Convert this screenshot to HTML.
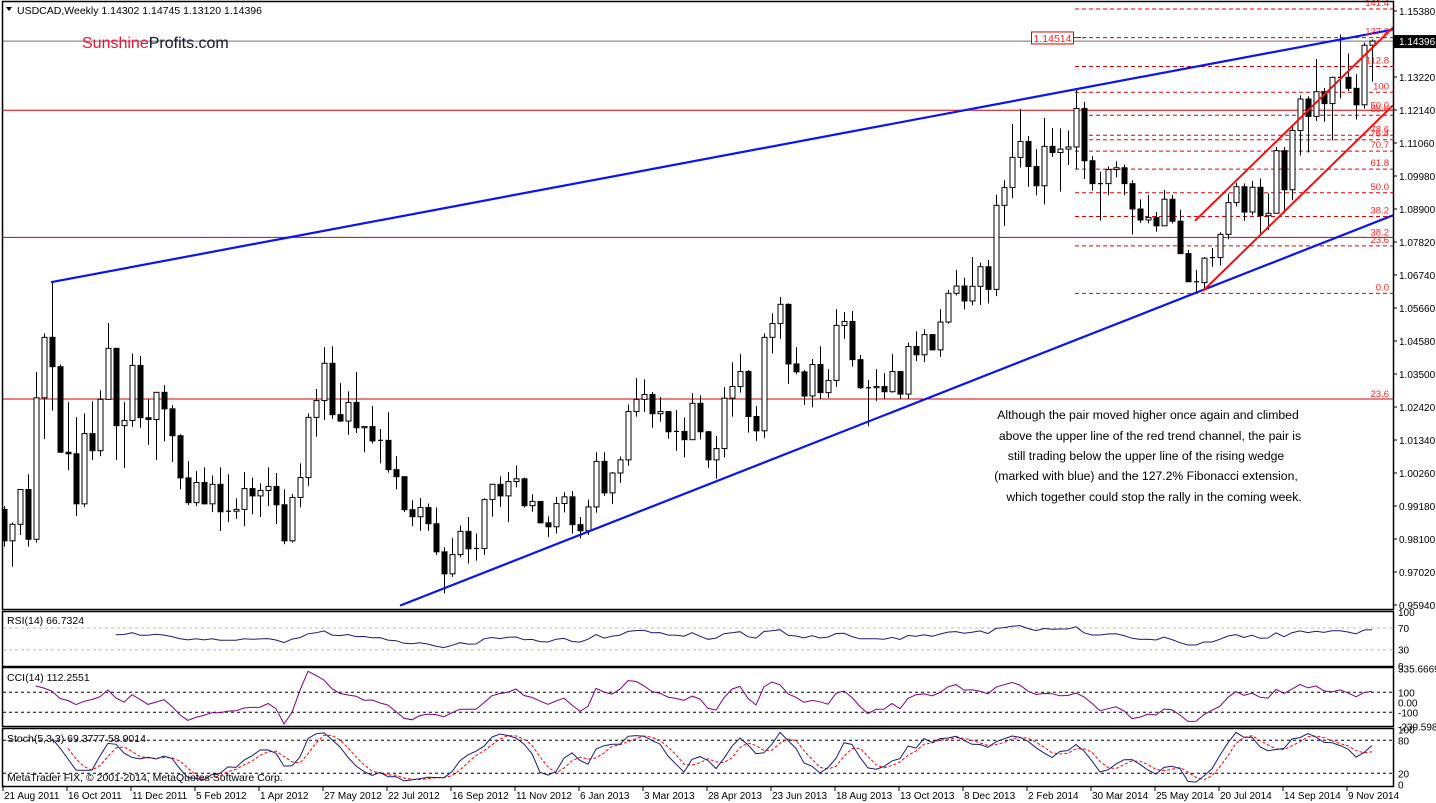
<!DOCTYPE html>
<html><head><meta charset="utf-8"><title>USDCAD Weekly</title>
<style>
html,body{margin:0;padding:0;background:#fff;}
svg{display:block;font-family:"Liberation Sans",sans-serif;}
</style></head>
<body>
<svg id="chart" xmlns="http://www.w3.org/2000/svg" width="1436" height="803" viewBox="0 0 1436 803">
<defs>
<clipPath id="mainClip"><rect x="3" y="2" width="1390" height="607"/></clipPath>
<clipPath id="rsiClip"><rect x="3" y="612" width="1390" height="54"/></clipPath>
<clipPath id="cciClip"><rect x="3" y="668" width="1390" height="58"/></clipPath>
<clipPath id="stClip"><rect x="3" y="729" width="1390" height="57"/></clipPath>
</defs>
<rect x="0" y="0" width="1436" height="803" fill="#fff"/>
<g id="main" clip-path="url(#mainClip)"></g>
<g id="overlay"></g>
<rect x="2.5" y="1.5" width="1391" height="608" fill="none" stroke="#000" stroke-width="1.5"/>
<rect x="2.5" y="611.5" width="1391" height="55" fill="none" stroke="#000" stroke-width="1.5"/>
<rect x="2.5" y="667.5" width="1391" height="59" fill="none" stroke="#000" stroke-width="1.5"/>
<rect x="2.5" y="728.5" width="1391" height="58" fill="none" stroke="#000" stroke-width="1.5"/>
<g id="rsiG" clip-path="url(#rsiClip)"></g>
<g id="cciG" clip-path="url(#cciClip)"></g>
<g id="stG" clip-path="url(#stClip)"></g>
<g id="axes"></g>

<text x="17" y="14" font-size="10.5" fill="#000">USDCAD,Weekly  1.14302 1.14745 1.13120 1.14396</text>
<path d="M6,7 L12,7 L9,11 Z" fill="#000"/>
<text x="82" y="48" font-size="16"><tspan fill="#e8143c">Sunshine</tspan><tspan fill="#151530">Profits.com</tspan></text>

<g font-size="12.2" fill="#000" text-anchor="middle">
<text x="1148" y="419">Although the pair moved higher once again and climbed</text>
<text x="1150" y="440">above the upper line of the red trend channel, the pair is</text>
<text x="1146" y="460">still trading below the upper line of the rising wedge</text>
<text x="1146" y="480">(marked with blue) and the 127.2% Fibonacci extension,</text>
<text x="1154" y="501">which together could stop the rally in the coming week.</text>
</g>

<text x="7" y="624" font-size="10.5">RSI(14) 66.7324</text>
<text x="7" y="681" font-size="10.5">CCI(14) 112.2551</text>
<text x="7" y="742" font-size="10.5">Stoch(5,3,3) 69.3777 58.9014</text>
<text x="7" y="781" font-size="10.5">MetaTrader FIX, © 2001-2014, MetaQuotes Software Corp.</text>

<script>
// ---------- data (weekly USDCAD, from 21 Aug 2011) ----------
const closes = [
0.9804,0.9858,0.9972,0.9809,1.0272,1.0470,1.0374,1.0094,1.0089,0.9925,
1.0155,1.0099,1.0267,1.0434,1.0181,1.0198,1.0378,1.0207,1.0201,1.0290,
1.0236,1.0148,1.0010,0.9929,0.9995,0.9925,0.9989,0.9899,0.9901,0.9907,
0.9975,0.9951,0.9969,0.9982,0.9922,0.9804,0.9946,1.0011,1.0208,1.0263,
1.0385,1.0217,1.0196,1.0257,1.0174,1.0178,1.0131,1.0133,1.0037,1.0014,
0.9906,0.9883,0.9913,0.9860,0.9768,0.9696,0.9759,0.9835,0.9778,0.9779,
0.9939,0.9989,0.9951,0.9998,1.0007,0.9919,0.9933,0.9863,0.9850,0.9926,
0.9948,0.9857,0.9837,0.9915,1.0064,0.9961,1.0026,1.0069,1.0227,1.0267,
1.0283,1.0220,1.0227,1.0161,1.0162,1.0135,1.0254,1.0161,1.0069,1.0106,
1.0271,1.0309,1.0358,1.0211,1.0164,1.0470,1.0515,1.0578,1.0383,1.0357,
1.0278,1.0381,1.0289,1.0329,1.0509,1.0522,1.0397,1.0305,1.0305,1.0309,
1.0292,1.0358,1.0284,1.0440,1.0413,1.0479,1.0429,1.0520,1.0614,1.0638,
1.0589,1.0637,1.0701,1.0627,1.0902,1.0960,1.1059,1.1111,1.1029,1.0966,
1.1095,1.1075,1.1086,1.1093,1.1219,1.1048,1.0973,1.0973,1.1019,1.1025,
1.0973,1.0890,1.0854,1.0862,1.0835,1.0922,1.0850,1.0744,1.0652,1.0649,
1.0729,1.0731,1.0807,1.0911,1.0963,1.0880,1.0961,1.0868,1.0876,1.1081,
1.0953,1.1147,1.1250,1.1193,1.1274,1.1235,1.1321,1.1321,1.1285,1.1231,
1.1426,1.14396];
const highs = [
0.9918,0.9864,0.9972,1.0022,1.0356,1.0483,1.0651,1.0381,1.0258,1.0209,
1.0221,1.0261,1.0297,1.0517,1.0434,1.0258,1.0417,1.0409,1.0267,1.0290,
1.0314,1.0248,1.0153,1.0065,1.0032,1.0045,1.0018,1.0045,1.0022,0.9943,
1.0029,1.0011,0.9992,1.0045,1.0026,0.9973,0.9957,1.0058,1.0221,1.0301,
1.0438,1.0441,1.0320,1.0293,1.0356,1.0178,1.0245,1.0170,1.0225,1.0081,
1.0009,0.9937,0.9944,0.9926,0.9913,0.9783,0.9813,0.9854,0.9882,0.9828,
0.9943,0.9989,1.0015,1.0029,1.0051,1.0011,0.9956,0.9933,0.9884,0.9948,
0.9963,0.9967,0.9882,0.9939,1.0094,1.0094,1.0029,1.0080,1.0250,1.0337,
1.0333,1.0291,1.0275,1.0227,1.0232,1.0208,1.0287,1.0280,1.0164,1.0147,
1.0307,1.0388,1.0415,1.0363,1.0245,1.0483,1.0549,1.0602,1.0581,1.0438,
1.0363,1.0399,1.0441,1.0366,1.0562,1.0553,1.0556,1.0412,1.0330,1.0366,
1.0353,1.0415,1.0358,1.0453,1.0490,1.0496,1.0479,1.0562,1.0625,1.0690,
1.0665,1.0733,1.0714,1.0723,1.0937,1.0984,1.1168,1.1217,1.1129,1.1086,
1.1188,1.1155,1.1154,1.1147,1.1282,1.1240,1.1063,1.1012,1.1029,1.1046,
1.1035,1.0984,1.0922,1.0936,1.0880,1.0952,1.0936,1.0888,1.0756,1.0690,
1.0733,1.0762,1.0814,1.0941,1.0976,1.0974,1.0982,1.0990,1.0941,1.1093,
1.1093,1.1159,1.1262,1.1259,1.1381,1.1286,1.1323,1.1461,1.1399,1.1332,
1.1435,1.1445];
const lows = [
0.9785,0.9719,0.9823,0.9785,0.9798,1.0137,1.0230,1.0092,1.0035,0.9885,
0.9915,1.0068,1.0081,1.0267,1.0068,1.0042,1.0177,1.0174,1.0118,1.0068,
1.0130,1.0062,0.9973,0.9921,0.9918,0.9923,0.9898,0.9836,0.9866,0.9876,
0.9852,0.9891,0.9882,0.9918,0.9859,0.9793,0.9798,0.9914,0.9984,1.0145,
1.0199,1.0203,1.0193,1.0151,1.0157,1.0094,1.0123,1.0058,1.0027,0.9973,
0.9898,0.9852,0.9837,0.9837,0.9758,0.9632,0.9686,0.9750,0.9730,0.9739,
0.9758,0.9883,0.9915,0.9866,0.9979,0.9913,0.9899,0.9861,0.9817,0.9828,
0.9897,0.9828,0.9812,0.9823,0.9896,0.9951,0.9924,0.9994,1.0050,1.0210,
1.0226,1.0174,1.0194,1.0138,1.0099,1.0077,1.0134,1.0136,1.0043,1.0007,
1.0077,1.0210,1.0289,1.0158,1.0131,1.0141,1.0417,1.0465,1.0318,1.0349,
1.0249,1.0241,1.0268,1.0272,1.0308,1.0465,1.0374,1.0301,1.0179,1.0262,
1.0269,1.0289,1.0269,1.0269,1.0392,1.0389,1.0429,1.0406,1.0515,1.0607,
1.0562,1.0575,1.0576,1.0581,1.0605,1.0835,1.0925,1.1026,1.0963,1.0935,
1.0905,1.1061,1.0947,1.1034,1.1020,1.0988,1.0950,1.0852,1.0935,1.0994,
1.0935,1.0807,1.0844,1.0843,1.0816,1.0834,1.0843,1.0744,1.0652,1.0616,
1.0625,1.0701,1.0705,1.0791,1.0898,1.0852,1.0870,1.0804,1.0821,1.0876,
1.0876,1.0919,1.1065,1.1075,1.1178,1.1176,1.1114,1.1252,1.1276,1.1183,
1.1219,1.1307];
const firstOpen = 0.9907;
const priceTicks = [1.1538,1.1430,1.1322,1.1214,1.1106,1.0998,1.0890,1.0782,1.0674,1.0566,1.0458,1.0350,1.0242,1.0134,1.0026,0.9918,0.9810,0.9702,0.9594];
const fibLevels = [0,23.6,38.2,50,61.8,70.7,76.4,78.6,88.6,100,112.8,127.2,141.4];
const fibLow = 1.0614;
const fibHigh = 1.1272;
const hLevels = [1.1213,1.0797,1.0268];
const hLevelLabels = ["50.0","38.2","23.6"];
const wedgeLowAnchor = [49.5, 0.9592];
const startDate = Date.UTC(2011,7,21);
const rsiTicks = [100,70,30,0];
const cciTicks = [335.6669,100,0,-100,-239.5985];
const cciTickLabels = ["335.6669","100","0.00","-100","-239.5985"];
const stTicks = [100,80,20,0];

// ---------- scales ----------
const xOf = i => 4 + 8*i;
const yP = p => 605 - (p - 0.9594) * 33 / 0.0108;
const yR = v => 666 - v * 0.542;
const yC = v => 702.3 - v * 0.1;
const yS = v => 784.3 - v * 0.55;

const NS = 'http://www.w3.org/2000/svg';
function mk(tag, attrs, parent){
  const e = document.createElementNS(NS, tag);
  for (const k in attrs) e.setAttribute(k, attrs[k]);
  parent.appendChild(e);
  return e;
}
const main = document.getElementById('main');
const overlay = document.getElementById('overlay');
const axes = document.getElementById('axes');
const N = closes.length;
const opens = closes.map((c,i) => i === 0 ? firstOpen : closes[i-1]);

// horizontal levels
hLevels.forEach((p,k) => {
  const y = yP(p);
  const l = mk('line', {x1:0, x2:1393, y1:y, y2:y, stroke:'#d00000', 'stroke-width':1}, main);
  
  
  const t = mk('text', {x:1389, y:y-2, 'font-size':9.5, fill:'#ff2020', 'text-anchor':'end'}, overlay);
  t.textContent = hLevelLabels[k];
  
  
});
// current price line
{
  const y = yP(closes[N-1]);
  const l = mk('line', {x1:0, x2:1393, y1:y, y2:y, stroke:'#707070', 'stroke-width':1}, main);
  
  
}
// fibonacci levels
fibLevels.forEach(f => {
  const p = fibLow + (fibHigh - fibLow) * f / 100;
  const y = yP(p);
  const l = mk('line', {x1:1075, x2:1393, y1:y, y2:y, stroke:'#e00000', 'stroke-width':1, 'stroke-dasharray':'4,3'}, main);
  
  
});

// candles
for (let i = 0; i < N; i++){
  const o = opens[i], c = closes[i];
  const h = Math.max(highs[i], o, c), lo = Math.min(lows[i], o, c);
  const x = xOf(i);
  const g = mk('g', {}, main);
  
  
  const w = mk('line', {x1:x+0.5, x2:x+0.5, y1:yP(h), y2:yP(lo), stroke:'#000', 'stroke-width':1}, g);
  
  
  const yt = yP(Math.max(o,c)), yb = yP(Math.min(o,c));
  if (yb - yt < 1.2){
    const d = mk('line', {x1:x-2, x2:x+3, y1:yt, y2:yt, stroke:'#000', 'stroke-width':1.2}, g);
    
    
  } else {
    const b = mk('rect', {x:x-2, y:yt, width:5, height:yb-yt, fill: c >= o ? '#fff' : '#000', stroke:'#000', 'stroke-width':1}, g);
    
    
  }
}

// trend lines
function lineThrough(i1,p1,i2,p2,xa,xb,color,width,name){
  const x1 = xOf(i1), y1 = yP(p1), x2 = xOf(i2), y2 = yP(p2);
  const s = (y2 - y1) / (x2 - x1);
  const l = mk('line', {x1:xa, y1:y1 + s*(xa-x1), x2:xb, y2:y1 + s*(xb-x1), stroke:color, 'stroke-width':width}, main);
  
  
}
lineThrough(6, highs[6], 134, highs[134], xOf(6)-1, 1393, '#0a14f0', 2.2, 'wedge-upper-line');
lineThrough(wedgeLowAnchor[0], wedgeLowAnchor[1], 149, lows[149], 400, 1393, '#0a14f0', 2.2, 'wedge-lower-line');
lineThrough(150, lows[150], 157, lows[157], 1203, 1393, '#f01010', 2, 'channel-lower-line');
lineThrough(150, lows[150]+0.0255, 157, lows[157]+0.0255, 1195, 1393, '#f01010', 2, 'channel-upper-line');

// fib labels on top of lines
fibLevels.forEach(f => {
  const p = fibLow + (fibHigh - fibLow) * f / 100;
  const y = yP(p);
  const t = mk('text', {x:1389, y:y-3, 'font-size':9.5, fill:'#ff2020', 'text-anchor':'end'}, overlay);
  t.textContent = f === 100 ? '100' : f.toFixed(1);
  
  
});

// 1.14514 marker
{
  const y = yP(1.14514);
  const l = mk('line', {x1:1073, x2:1085, y1:y, y2:y, stroke:'#e00000', 'stroke-dasharray':'3,2'}, overlay);
  
  
  const r = mk('rect', {x:1031.5, y:y-5.5, width:42, height:12, fill:'#fff', stroke:'#e00000', 'stroke-width':1}, overlay);
  
  
  const t = mk('text', {x:1052.5, y:y+4.5, 'font-size':10.5, fill:'#ff2020', 'text-anchor':'middle'}, overlay);
  t.textContent = '1.14514';
  
  
}

// price axis
priceTicks.forEach(p => {
  const y = yP(p);
  const tk = mk('line', {x1:1393, x2:1397, y1:y, y2:y, stroke:'#000'}, axes);
  
  
  const t = mk('text', {x:1399, y:y+4, 'font-size':10, fill:'#000'}, axes);
  t.textContent = p.toFixed(5);
  
  
});
{
  const y = yP(closes[N-1]);
  const r = mk('rect', {x:1394, y:y-6, width:42, height:13, fill:'#000'}, axes);
  
  
  const t = mk('text', {x:1399, y:y+4, 'font-size':10, fill:'#fff'}, axes);
  t.textContent = closes[N-1].toFixed(5);
  
  
}

// date axis
const MON = ['Jan','Feb','Mar','Apr','May','Jun','Jul','Aug','Sep','Oct','Nov','Dec'];
for (let i = 0; i < N; i += 8){
  const d = new Date(startDate + i*7*86400000);
  const x = xOf(i) - 1;
  const tk = mk('line', {x1:x, x2:x, y1:786, y2:791, stroke:'#000'}, axes);
  
  
  const t = mk('text', {x:x+1, y:799, 'font-size':10, fill:'#000'}, axes);
  t.textContent = d.getUTCDate() + ' ' + MON[d.getUTCMonth()] + ' ' + d.getUTCFullYear();
  
  
}

// ---------- indicators ----------
const rsi = new Array(N).fill(null);
{
  let ag = 0, al = 0;
  for (let i = 1; i < N; i++){
    const ch = closes[i] - closes[i-1];
    const g = Math.max(ch,0), l = Math.max(-ch,0);
    if (i <= 14){ ag += g/14; al += l/14; if (i === 14) rsi[i] = al === 0 ? 100 : 100 - 100/(1+ag/al); }
    else { ag = (ag*13 + g)/14; al = (al*13 + l)/14; rsi[i] = al === 0 ? 100 : 100 - 100/(1+ag/al); }
  }
}
const cci = new Array(N).fill(null);
{
  const tp = closes.map((c,i) => (Math.max(highs[i],opens[i],c) + Math.min(lows[i],opens[i],c) + c)/3);
  for (let i = 0; i < N; i++){
    const n = Math.min(14, i+1);
    if (n < 5) continue;
    let s = 0; for (let j = i-n+1; j <= i; j++) s += tp[j];
    const m = s/n;
    let md = 0; for (let j = i-n+1; j <= i; j++) md += Math.abs(tp[j]-m);
    md /= n;
    cci[i] = md === 0 ? 0 : (tp[i]-m)/(0.015*md);
  }
}
const stK = new Array(N).fill(null), stD = new Array(N).fill(null);
{
  const hi = highs.map((h,i) => Math.max(h, opens[i], closes[i]));
  const lo = lows.map((l,i) => Math.min(l, opens[i], closes[i]));
  for (let i = 6; i < N; i++){
    let num = 0, den = 0;
    for (let k = i-2; k <= i; k++){
      let H = -1e9, L = 1e9;
      for (let j = k-4; j <= k; j++){ H = Math.max(H, hi[j]); L = Math.min(L, lo[j]); }
      num += closes[k] - L; den += H - L;
    }
    stK[i] = den === 0 ? 50 : 100*num/den;
  }
  for (let i = 8; i < N; i++) stD[i] = (stK[i]+stK[i-1]+stK[i-2])/3;
}
function poly(arr, yf, parent, color, dash, name){
  const pts = [];
  arr.forEach((v,i) => { if (v !== null) pts.push(xOf(i) + ',' + yf(v).toFixed(1)); });
  const attrs = {points: pts.join(' '), fill:'none', stroke:color, 'stroke-width':1};
  if (dash) attrs['stroke-dasharray'] = dash;
  const p = mk('polyline', attrs, parent);
  
  
}
function hline(y, parent, color, name){
  const l = mk('line', {x1:3, x2:1393, y1:y, y2:y, stroke:color, 'stroke-width':1, 'stroke-dasharray':'3,3'}, parent);
  
  
}
const rsiG = document.getElementById('rsiG');
const cciG = document.getElementById('cciG');
const stG = document.getElementById('stG');
hline(yR(70), rsiG, '#b8b8b8', 'rsi-level-70');
hline(yR(30), rsiG, '#b8b8b8', 'rsi-level-30');
poly(rsi, yR, rsiG, '#1c1c70', null, 'rsi-line');
hline(yC(100), cciG, '#000', 'cci-level-100');
hline(yC(-100), cciG, '#000', 'cci-level-minus-100');
poly(cci, yC, cciG, '#800080', null, 'cci-line');
hline(yS(80), stG, '#000', 'stoch-level-80');
hline(yS(20), stG, '#000', 'stoch-level-20');
poly(stD, yS, stG, '#ff0000', '3,2', 'stoch-signal-line');
poly(stK, yS, stG, '#1c1c70', null, 'stoch-main-line');

function axisLabels(vals, labels, yf, name){
  vals.forEach((v,k) => {
    const t = mk('text', {x:1398, y:yf(v)+4, 'font-size':10, fill:'#000'}, axes);
    t.textContent = labels[k];
    
    
  });
}
axisLabels(rsiTicks, rsiTicks.map(String), yR, 'rsi-axis-label');
axisLabels(cciTicks, cciTickLabels, yC, 'cci-axis-label');
axisLabels(stTicks, stTicks.map(String), yS, 'stoch-axis-label');
</script>
</svg>
</body></html>
